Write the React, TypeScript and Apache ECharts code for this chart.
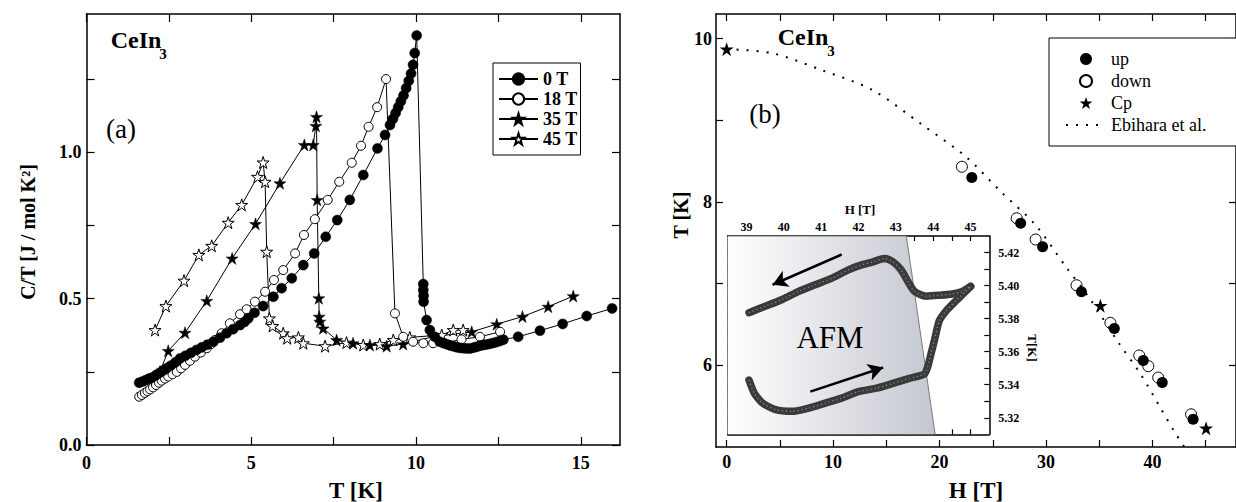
import React, { useEffect, useRef } from 'react';
import * as echarts from 'echarts';

const SERIF = '"Liberation Serif", "Times New Roman", serif';
const STAR =
  'path://M50,0L61.8,35.1L98.8,35.1L68.9,56.8L80.3,91.9L50,70.2L19.7,91.9L31.1,56.8L1.2,35.1L38.2,35.1Z';

// ---------- Panel (a): C/T vs T ----------
const t0T = [1.60, 1.70, 1.80, 1.90, 1.98, 2.10, 2.22, 2.33, 2.43, 2.55, 2.70, 2.84, 3.00, 3.17, 3.34, 3.50, 3.67, 3.85, 4.05, 4.25, 4.45, 4.66, 4.80, 4.91, 5.10, 5.36, 5.67, 5.92, 6.23, 6.58, 6.91, 7.26, 7.61, 7.99, 8.40, 8.83, 9.06, 9.21, 9.30, 9.38, 9.46, 9.54, 9.62, 9.70, 9.78, 9.85, 9.91, 9.96, 10.02, 10.22, 10.22, 10.23, 10.23, 10.32, 10.42, 10.57, 10.72, 10.85, 10.95, 11.05, 11.15, 11.25, 11.35, 11.45, 11.55, 11.65, 11.75, 11.85, 11.95, 12.05, 12.15, 12.25, 12.35, 12.45, 12.55, 12.65, 13.10, 13.76, 14.45, 15.18, 15.95];
const c0T = [0.213, 0.217, 0.222, 0.227, 0.230, 0.238, 0.247, 0.255, 0.262, 0.271, 0.283, 0.296, 0.305, 0.315, 0.325, 0.334, 0.343, 0.353, 0.367, 0.382, 0.396, 0.410, 0.421, 0.433, 0.452, 0.475, 0.507, 0.536, 0.570, 0.615, 0.655, 0.712, 0.769, 0.838, 0.923, 1.014, 1.060, 1.094, 1.115, 1.135, 1.155, 1.175, 1.195, 1.220, 1.245, 1.270, 1.300, 1.340, 1.400, 0.550, 0.530, 0.510, 0.490, 0.427, 0.393, 0.370, 0.353, 0.348, 0.344, 0.340, 0.337, 0.334, 0.332, 0.331, 0.330, 0.330, 0.333, 0.336, 0.340, 0.342, 0.344, 0.346, 0.349, 0.352, 0.356, 0.360, 0.370, 0.391, 0.414, 0.441, 0.467];

const t18T = [1.60, 1.68, 1.77, 1.85, 1.93, 2.02, 2.11, 2.20, 2.28, 2.38, 2.48, 2.61, 2.74, 2.87, 2.99, 3.14, 3.29, 3.47, 3.65, 3.78, 3.90, 4.10, 4.35, 4.66, 4.86, 5.11, 5.42, 5.69, 5.97, 6.33, 6.60, 6.93, 7.32, 7.67, 8.05, 8.33, 8.56, 8.82, 9.09, 9.36, 9.61, 9.91, 10.22, 10.52, 10.82, 11.38, 11.94, 12.55];
const c18T = [0.165, 0.171, 0.178, 0.184, 0.190, 0.197, 0.205, 0.213, 0.220, 0.227, 0.234, 0.242, 0.250, 0.262, 0.274, 0.288, 0.302, 0.316, 0.331, 0.345, 0.359, 0.382, 0.416, 0.447, 0.464, 0.490, 0.524, 0.564, 0.598, 0.655, 0.718, 0.772, 0.838, 0.900, 0.965, 1.023, 1.088, 1.155, 1.251, 0.450, 0.370, 0.353, 0.348, 0.348, 0.348, 0.361, 0.370, 0.387];

const t35T = [2.23, 2.48, 2.99, 3.65, 4.42, 5.13, 5.87, 6.61, 6.88, 6.96, 6.98, 7.00, 7.05, 7.06, 7.08, 7.18, 7.59, 8.09, 8.60, 9.11, 9.61, 10.52, 11.69, 12.45, 13.23, 14.01, 14.77];
const c35T = [0.251, 0.322, 0.384, 0.493, 0.638, 0.756, 0.895, 1.026, 1.026, 1.091, 1.122, 0.838, 0.502, 0.439, 0.422, 0.399, 0.359, 0.348, 0.342, 0.338, 0.345, 0.370, 0.387, 0.413, 0.439, 0.473, 0.509];

const t45T = [2.08, 2.41, 2.96, 3.41, 3.80, 4.30, 4.71, 5.19, 5.36, 5.42, 5.47, 5.55, 5.65, 5.97, 6.09, 6.43, 6.58, 7.24, 7.89, 8.40, 8.90, 9.31, 9.81, 10.78, 11.13, 11.43];
const c45T = [0.393, 0.475, 0.562, 0.650, 0.681, 0.760, 0.821, 0.917, 0.966, 0.900, 0.661, 0.433, 0.407, 0.382, 0.365, 0.368, 0.348, 0.338, 0.350, 0.342, 0.345, 0.359, 0.368, 0.376, 0.393, 0.393];

const aTTicks = [0, 2.5, 5, 7.5, 10, 12.5, 15];
const aTLabels = [0, 5, 10, 15];
const aCTicks = [0, 0.25, 0.5, 0.75, 1.0, 1.25];
const aCLabels = [0, 0.5, 1.0];

// ---------- Panel (b): phase diagram T vs H ----------
const upH = [23.03, 27.62, 29.68, 33.33, 36.42, 39.14, 40.92, 43.82];
const upT = [8.30, 7.74, 7.45, 6.90, 6.45, 6.06, 5.79, 5.34];
const downH = [22.10, 27.25, 29.03, 32.87, 36.05, 38.76, 39.61, 40.54, 43.63];
const downT = [8.43, 7.80, 7.54, 6.98, 6.52, 6.12, 5.99, 5.85, 5.40];
const cpH = [0, 35.11, 45.04];
const cpT = [9.87, 6.73, 5.23];
const ebiH = [0, 4.3, 9.0, 13.7, 18.3, 22.5, 25.8, 29.0, 31.9, 34.2, 36.8, 38.9, 40.7, 42.1, 43.1];
const ebiT = [9.87, 9.82, 9.61, 9.37, 8.95, 8.55, 8.12, 7.72, 7.20, 6.80, 6.28, 5.89, 5.49, 5.18, 4.98];

const bHTicks = [0, 5, 10, 15, 20, 25, 30, 35, 40, 45];
const bHLabels = [0, 10, 20, 30, 40];
const bTTicks = [6, 7, 8, 9, 10];
const bTLabels = [6, 8, 10];

// ---------- Inset: hysteresis loop ----------
const sweepDownH = [39.07, 39.52, 39.96, 40.40, 40.84, 41.29, 41.73, 42.08, 42.39, 42.70, 42.92, 43.14, 43.32, 43.50, 43.81, 44.16, 44.51, 44.78, 45.00];
const sweepDownT = [5.3836, 5.3876, 5.3916, 5.3965, 5.4005, 5.4045, 5.4095, 5.4125, 5.4144, 5.4164, 5.4144, 5.4095, 5.4025, 5.3965, 5.3936, 5.3941, 5.3949, 5.3965, 5.3995];
const sweepUpH = [39.07, 39.21, 39.43, 39.78, 40.23, 40.67, 41.11, 41.55, 41.99, 42.48, 42.92, 43.36, 43.76, 43.85, 43.94, 44.03, 44.16, 44.34, 44.60, 44.87, 45.00];
const sweepUpT = [5.3428, 5.3349, 5.3289, 5.3249, 5.3239, 5.3259, 5.3289, 5.3319, 5.3358, 5.3379, 5.3408, 5.3438, 5.3464, 5.3507, 5.3587, 5.3667, 5.3786, 5.3846, 5.3906, 5.3965, 5.3995];
const afmBoundaryH = [38.5, 43.28, 44.05];
const afmBoundaryT = [5.43, 5.43, 5.31];
const arrowDownSweep = [[41.55, 5.4188], [39.70, 5.4005]];
const arrowUpSweep = [[40.71, 5.3358], [42.66, 5.3504]];

const iHTicks = [39, 39.5, 40, 40.5, 41, 41.5, 42, 42.5, 43, 43.5, 44, 44.5, 45];
const iHLabels = [39, 40, 41, 42, 43, 44, 45];
const iTTicks = [5.32, 5.33, 5.34, 5.35, 5.36, 5.37, 5.38, 5.39, 5.40, 5.41, 5.42];
const iTLabels = [5.32, 5.34, 5.36, 5.38, 5.40, 5.42];

const zip = (xs: number[], ys: number[]) => xs.map((x, i) => [x, ys[i]]);

const lineColor = { color: '#000', width: 1.5 };

function axis(o: any) {
  const { ticks, labels, tickLen, labelStyle, ...rest } = o;
  return {
    type: 'value',
    splitLine: { show: false },
    axisLine: { show: true, onZero: false, lineStyle: lineColor },
    axisTick: {
      show: true,
      inside: true,
      length: tickLen,
      lineStyle: { color: '#000', width: 1.2 },
      customValues: ticks,
    },
    axisLabel: labels
      ? { show: true, customValues: labels, color: '#000', fontFamily: SERIF, fontWeight: 'bold', ...labelStyle }
      : { show: false },
    ...rest,
  };
}

function txt(text: string, x: number, y: number, size: number, opts: any = {}) {
  const { rotation = 0, weight = 'bold', ...style } = opts;
  return {
    type: 'text',
    x,
    y,
    rotation,
    z: 100,
    style: {
      text,
      fill: '#000',
      font: `${weight} ${size}px ${SERIF}`,
      align: 'center',
      verticalAlign: 'middle',
      ...style,
    },
  };
}

function buildOption() {
  const aSeries = (name: string, xs: number[], ys: number[], symbol: string, size: number, filled: boolean) => ({
    type: 'line',
    name,
    xAxisIndex: 0,
    yAxisIndex: 0,
    data: zip(xs, ys),
    symbol,
    symbolSize: size,
    showSymbol: true,
    lineStyle: { color: '#000', width: 1 },
    itemStyle: filled
      ? { color: '#000', borderColor: '#000', borderWidth: 0.5, opacity: 1 }
      : { color: '#fff', borderColor: '#000', borderWidth: 1, opacity: 1 },
    emphasis: { disabled: true },
  });

  return {
    animation: false,
    backgroundColor: '#fff',
    grid: [
      { left: 86.5, top: 14, width: 533.5, height: 431 },
      { left: 716, top: 14, width: 522, height: 433 },
      { left: 727.7, top: 236, width: 261.6, height: 198.3, show: true, backgroundColor: '#fff', borderWidth: 0 },
    ],
    xAxis: [
      axis({ gridIndex: 0, position: 'bottom', min: 0, max: 16.19, ticks: aTTicks, labels: aTLabels, tickLen: 8, labelStyle: { fontSize: 18, margin: 9 } }),
      axis({ gridIndex: 0, position: 'top', min: 0, max: 16.19, ticks: aTTicks, tickLen: 8 }),
      axis({ gridIndex: 1, position: 'bottom', min: -1, max: 47.85, ticks: bHTicks, labels: bHLabels, tickLen: 7, labelStyle: { fontSize: 18, margin: 6 } }),
      axis({ gridIndex: 1, position: 'top', min: -1, max: 47.85, ticks: bHTicks, tickLen: 7 }),
      axis({ gridIndex: 2, position: 'top', min: 38.5, max: 45.5, ticks: iHTicks, labels: iHLabels, tickLen: 5, labelStyle: { fontSize: 12, margin: 3 } }),
      axis({ gridIndex: 2, position: 'bottom', min: 38.5, max: 45.5, ticks: iHTicks, tickLen: 5 }),
    ],
    yAxis: [
      axis({ gridIndex: 0, position: 'left', min: 0, max: 1.4735, ticks: aCTicks, labels: aCLabels, tickLen: 8, labelStyle: { fontSize: 18, margin: 5, formatter: (v: number) => v.toFixed(1) } }),
      axis({ gridIndex: 0, position: 'right', min: 0, max: 1.4735, ticks: aCTicks, tickLen: 8 }),
      axis({ gridIndex: 1, position: 'left', min: 5, max: 10.3, ticks: bTTicks, labels: bTLabels, tickLen: 7, labelStyle: { fontSize: 18, margin: 4 } }),
      axis({ gridIndex: 1, position: 'right', min: 5, max: 10.3, ticks: bTTicks, tickLen: 7 }),
      axis({ gridIndex: 2, position: 'right', min: 5.31, max: 5.43, ticks: iTTicks, labels: iTLabels, tickLen: 5, labelStyle: { fontSize: 12, margin: 9, formatter: (v: number) => v.toFixed(2) } }),
      axis({ gridIndex: 2, position: 'left', min: 5.31, max: 5.43, ticks: iTTicks, tickLen: 5 }),
    ],
    legend: [
      {
        data: ['0 T', '18 T', '35 T', '45 T'],
        orient: 'vertical',
        left: 493,
        top: 63,
        itemWidth: 39,
        itemHeight: 14,
        itemGap: 2,
        padding: [7, 3, 7, 5],
        borderColor: '#000',
        borderWidth: 1,
        backgroundColor: '#fff',
        selectedMode: false,
        textStyle: { fontFamily: SERIF, fontSize: 18, fontWeight: 'bold', color: '#000', lineHeight: 18 },
      },
      {
        data: [
          'up',
          'down',
          'Cp',
          { name: 'Ebihara et al.', itemStyle: { color: 'rgba(0,0,0,0)', borderWidth: 0, opacity: 0 } },
        ],
        orient: 'vertical',
        left: 1049,
        top: 38,
        itemWidth: 40,
        itemHeight: 12,
        itemGap: 4,
        padding: [12, 50, 12, 16],
        borderColor: '#000',
        borderWidth: 1,
        backgroundColor: '#fff',
        selectedMode: false,
        textStyle: { fontFamily: SERIF, fontSize: 18, fontWeight: 'normal', color: '#000', lineHeight: 18 },
      },
    ],
    series: [
      aSeries('45 T', t45T, c45T, STAR, 12, false),
      aSeries('35 T', t35T, c35T, STAR, 12, true),
      aSeries('18 T', t18T, c18T, 'circle', 9, false),
      aSeries('0 T', t0T, c0T, 'circle', 10, true),
      {
        type: 'line',
        name: 'Ebihara et al.',
        xAxisIndex: 2,
        yAxisIndex: 2,
        data: zip(ebiH, ebiT),
        smooth: 0.3,
        symbol: 'none',
        showSymbol: false,
        clip: true,
        lineStyle: { color: '#000', width: 2, type: [2, 8] },
        itemStyle: { color: '#000' },
      },
      {
        type: 'scatter',
        name: 'down',
        xAxisIndex: 2,
        yAxisIndex: 2,
        data: zip(downH, downT),
        symbol: 'circle',
        symbolSize: 11,
        itemStyle: { color: '#fff', borderColor: '#000', borderWidth: 1, opacity: 1 },
      },
      {
        type: 'scatter',
        name: 'up',
        xAxisIndex: 2,
        yAxisIndex: 2,
        data: zip(upH, upT),
        symbol: 'circle',
        symbolSize: 11,
        itemStyle: { color: '#000', opacity: 1 },
      },
      {
        type: 'scatter',
        name: 'Cp',
        xAxisIndex: 2,
        yAxisIndex: 2,
        data: zip(cpH, cpT),
        symbol: STAR,
        symbolSize: 14,
        itemStyle: { color: '#000', opacity: 1 },
      },
      {
        type: 'line',
        name: 'AFM phase',
        xAxisIndex: 4,
        yAxisIndex: 4,
        data: zip(afmBoundaryH, afmBoundaryT),
        symbol: 'none',
        showSymbol: false,
        lineStyle: { color: '#7a7a7a', width: 1 },
        areaStyle: {
          origin: 'start',
          opacity: 1,
          color: new echarts.graphic.LinearGradient(0, 0, 1, 0, [
            { offset: 0, color: '#ffffff' },
            { offset: 1, color: '#c3c7cf' },
          ]),
        },
        z: 1,
      },
      {
        type: 'line',
        name: 'field down',
        xAxisIndex: 4,
        yAxisIndex: 4,
        data: zip(sweepDownH, sweepDownT),
        smooth: 0.25,
        symbol: 'none',
        showSymbol: false,
        lineStyle: { color: '#3a3a3a', width: 7.5, cap: 'round', join: 'round' },
        markLine: {
          silent: true,
          symbol: ['none', 'arrow'],
          symbolSize: [13, 15],
          label: { show: false },
          lineStyle: { color: '#000', width: 2.5, type: 'solid' },
          data: [[{ coord: arrowDownSweep[0] }, { coord: arrowDownSweep[1] }]],
        },
        z: 3,
      },
      {
        type: 'line',
        name: 'field up',
        xAxisIndex: 4,
        yAxisIndex: 4,
        data: zip(sweepUpH, sweepUpT),
        smooth: 0.2,
        symbol: 'none',
        showSymbol: false,
        lineStyle: { color: '#3a3a3a', width: 7.5, cap: 'round', join: 'round' },
        markLine: {
          silent: true,
          symbol: ['none', 'arrow'],
          symbolSize: [13, 15],
          label: { show: false },
          lineStyle: { color: '#000', width: 2.5, type: 'solid' },
          data: [[{ coord: arrowUpSweep[0] }, { coord: arrowUpSweep[1] }]],
        },
        z: 3,
      },
      {
        type: 'line',
        name: 'field down texture',
        xAxisIndex: 4,
        yAxisIndex: 4,
        data: zip(sweepDownH, sweepDownT),
        smooth: 0.25,
        symbol: 'none',
        showSymbol: false,
        lineStyle: { color: '#9a9a9a', width: 1.3, type: [1, 3] },
        z: 4,
      },
      {
        type: 'line',
        name: 'field up texture',
        xAxisIndex: 4,
        yAxisIndex: 4,
        data: zip(sweepUpH, sweepUpT),
        smooth: 0.2,
        symbol: 'none',
        showSymbol: false,
        lineStyle: { color: '#9a9a9a', width: 1.3, type: [1, 3] },
        z: 4,
      },
    ],
    graphic: [
      txt('CeIn', 136, 40, 24),
      txt('3', 163, 54, 15),
      txt('(a)', 121, 129, 27, { weight: 'normal' }),
      txt('CeIn', 803, 37, 24),
      txt('3', 831, 51, 15),
      txt('(b)', 765, 114, 27, { weight: 'normal' }),
      txt('C/T [J / mol K\u00B2]', 28, 232, 20, { rotation: Math.PI / 2 }),
      txt('T [K]', 356, 490, 23),
      txt('T [K]', 681, 215, 20, { rotation: Math.PI / 2 }),
      txt('H [T]', 976, 490, 23),
      txt('H [T]', 860, 209, 13),
      txt('T[K]', 1032, 348, 13, { rotation: -Math.PI / 2 }),
      txt('AFM', 830, 337, 31, { weight: 'normal' }),
    ],
  };
}

export default function App() {
  const ref = useRef<HTMLDivElement>(null);
  useEffect(() => {
    if (!ref.current) return;
    const chart = echarts.init(ref.current, undefined, { renderer: 'svg' });
    chart.setOption(buildOption() as any);
    return () => chart.dispose();
  }, []);
  return (
    <div
      ref={ref}
      style={{ position: 'absolute', left: 0, top: 0, width: 1236, height: 502, background: '#fff' }}
    />
  );
}
